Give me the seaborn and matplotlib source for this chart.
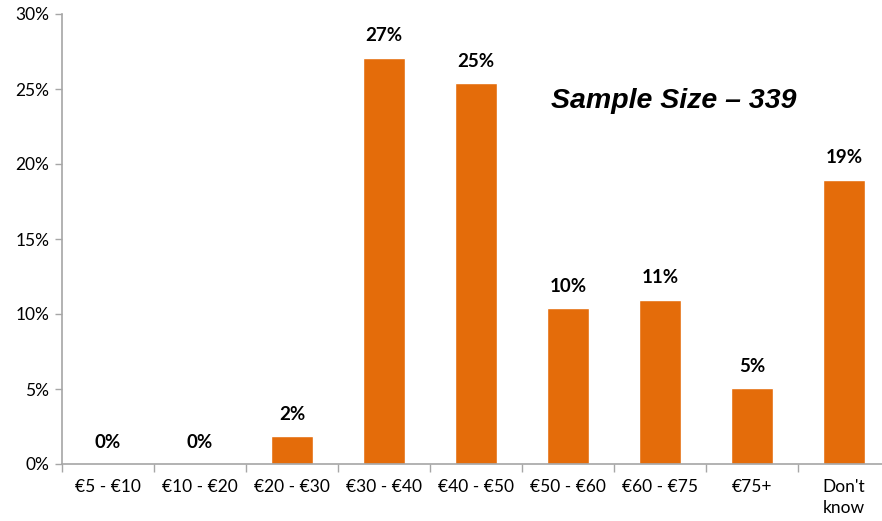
import matplotlib
matplotlib.use("Agg")
import matplotlib.pyplot as plt
import seaborn as sns
import pandas as pd

categories = ["€5 - €10", "€10 - €20", "€20 - €30", "€30 - €40", "€40 - €50",
              "€50 - €60", "€60 - €75", "€75+", "Don't\nknow"]
shares = [0.0, 0.0, 1.85, 27.1, 25.4, 10.4, 10.95, 5.05, 18.95]
y_ticks = [0, 5, 10, 15, 20, 25, 30]
note = "Sample Size \u2013 339"

sns.set_theme(style="white")
plt.rcParams["font.family"] = ["Lato", "DejaVu Sans"]
plt.rcParams["text.color"] = "black"
plt.rcParams["xtick.labelcolor"] = "black"
plt.rcParams["ytick.labelcolor"] = "black"

df = pd.DataFrame({"category": categories, "share": shares})

fig = plt.figure(figsize=(8.82, 5.21), dpi=100)
ax = fig.add_axes([62 / 882, 1 - 464 / 521, 820 / 882, 450 / 521])

sns.barplot(data=df, x="category", y="share", color="#E46C0A", saturation=1,
            width=0.46, ax=ax)

for i, v in enumerate(shares):
    ax.text(i, v + 0.9, f"{v:.0f}%", ha="center", va="bottom",
            fontsize=13.5, fontweight="bold", color="black")

ax.set_ylim(0, 30)
ax.set_xlim(-0.5, -0.5 + 820 / 92)
ax.set_yticks(y_ticks)
ax.set_yticklabels([f"{t}%" for t in y_ticks], fontsize=12.5)
ax.set_xticks(range(len(categories)))
ax.set_xticklabels(categories, fontsize=12.5, linespacing=1.35)
ax.set_xlabel("")
ax.set_ylabel("")

# category boundary ticks on the x axis
ax.set_xticks([i - 0.5 for i in range(len(categories))], minor=True)
ax.tick_params(axis="x", which="major", length=0, pad=11, labelcolor="black")
ax.tick_params(axis="x", which="minor", length=6, width=1, color="#A6A6A6",
               direction="out", bottom=True)
ax.tick_params(axis="y", which="major", length=5, width=1, color="#A6A6A6",
               direction="out", left=True, pad=4, labelcolor="black")

for side in ["top", "right"]:
    ax.spines[side].set_visible(False)
for side in ["left", "bottom"]:
    ax.spines[side].set_color("#A6A6A6")
    ax.spines[side].set_linewidth(1.2)

ax.text(6.15, 24.2, note, ha="center", va="center", fontsize=20.5,
        fontweight="bold", fontstyle="italic", family="Liberation Sans",
        color="black")

fig.savefig("out.png", dpi=100, facecolor="white")
